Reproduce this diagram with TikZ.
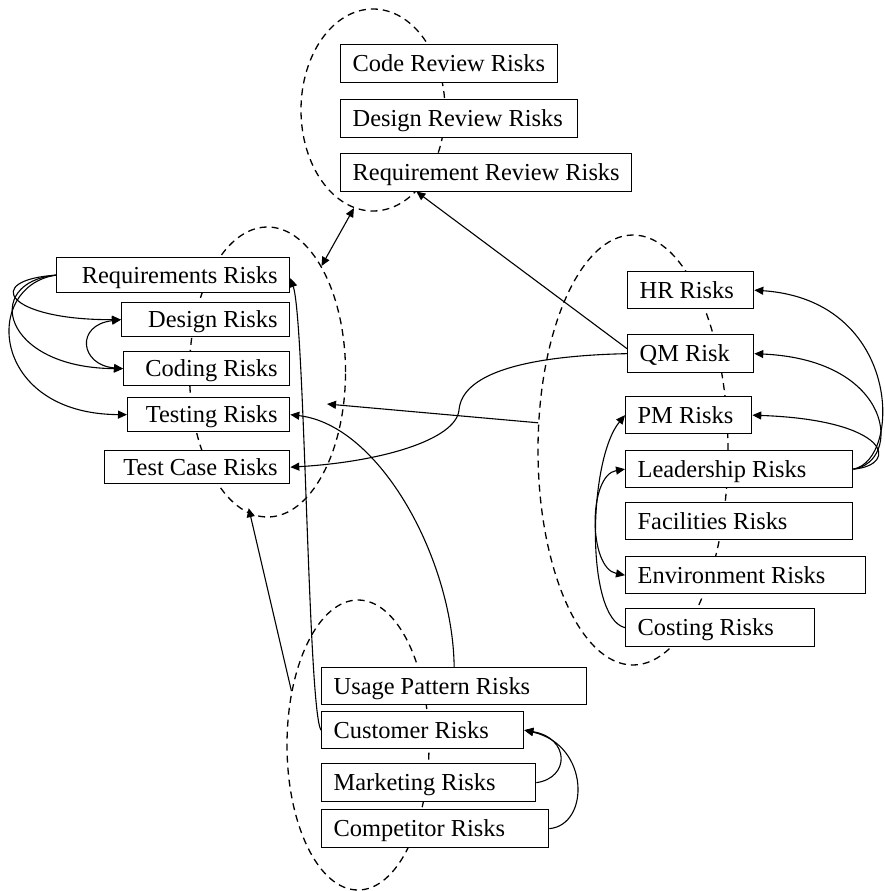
\documentclass[tikz,border=0pt]{standalone}
\usepackage{fontspec}
\setmainfont{Liberation Serif}
\usetikzlibrary{shapes.geometric,arrows.meta}

% fixed-width label boxes that never wrap
\newcommand{\leftin}[2]{\makebox[#1][l]{#2}}
\newcommand{\rightin}[2]{\makebox[#1][r]{#2}}

\begin{document}
\begin{tikzpicture}[x=1pt,y=-1pt,
  zone/.style={draw, ellipse, inner sep=0pt, line width=1.3pt, dash pattern=on 7pt off 5pt},
  riskbox/.style={draw, fill=white, line width=1.3pt, anchor=north west,
    inner xsep=12pt, inner ysep=0pt, text height=22pt, text depth=6pt,
    font=\fontsize{24.4}{29}\selectfont},
  tip/.tip={Triangle[length=9pt,width=8pt]},
  link/.style={line width=1.1pt, -tip},
  both/.style={line width=1.1pt, tip-tip}]
\useasboundingbox (0,0) rectangle (884,891);

% dashed groupings
\node[zone, minimum width=144pt, minimum height=202pt] (rev)  at (373,110)   {};
\node[zone, minimum width=156pt, minimum height=290pt] (dev)  at (267.5,372) {};
\node[zone, minimum width=190pt, minimum height=430pt] (mgmt) at (633,450)   {};
\node[zone, minimum width=142pt, minimum height=290pt] (mkt)  at (358,745)   {};

% review risks
\node[riskbox, minimum height=38pt] (cr) at (340,44)  {\leftin{193pt}{Code Review Risks}};
\node[riskbox, minimum height=38pt] (dr) at (340,99)  {\leftin{213pt}{Design Review Risks}};
\node[riskbox, minimum height=38pt] (rr) at (340,153) {\leftin{267pt}{Requirement Review Risks}};

% development risks
\node[riskbox, minimum height=35pt] (req) at (56,257)  {\rightin{209pt}{Requirements Risks}};
\node[riskbox, minimum height=34pt] (des) at (121,302) {\rightin{144pt}{Design Risks}};
\node[riskbox, minimum height=34pt] (cod) at (123,351) {\rightin{142pt}{Coding Risks}};
\node[riskbox, minimum height=34pt] (tst) at (127,397) {\rightin{138pt}{Testing Risks}};
\node[riskbox, minimum height=33pt] (tc)  at (104,450) {\rightin{161pt}{Test Case Risks}};

% management risks
\node[riskbox, minimum height=37pt] (hr)   at (627,271) {\leftin{102pt}{HR Risks}};
\node[riskbox, minimum height=38pt] (qm)   at (627,334) {\leftin{102pt}{QM Risk}};
\node[riskbox, minimum height=37pt] (pm)   at (625,396) {\leftin{102pt}{PM Risks}};
\node[riskbox, minimum height=37pt] (lead) at (625,450) {\leftin{203pt}{Leadership Risks}};
\node[riskbox, minimum height=37pt] (fac)  at (625,502) {\leftin{203pt}{Facilities Risks}};
\node[riskbox, minimum height=37pt] (env)  at (625,556) {\leftin{216pt}{Environment Risks}};
\node[riskbox, minimum height=38pt] (cost) at (625,608) {\leftin{165pt}{Costing Risks}};

% market risks
\node[riskbox, minimum height=37pt] (use)  at (321,667) {\leftin{241pt}{Usage Pattern Risks}};
\node[riskbox, minimum height=37pt] (cust) at (321,711) {\leftin{178pt}{Customer Risks}};
\node[riskbox, minimum height=38pt] (mark) at (321,763) {\leftin{190pt}{Marketing Risks}};
\node[riskbox, minimum height=38pt] (comp) at (321,809) {\leftin{203pt}{Competitor Risks}};

% links between groups
\draw[both] (rev.259) -- (dev.63);
\draw[link] ([yshift=5pt]qm.west) -- (rev.-62);
\coordinate (devIn) at (327,404);
\draw[link] (mgmt.164) -- (devIn);
\draw[link, shorten >=-6pt] (mkt.141) -- (dev.263);
\draw[link] (qm.west) .. controls (520,356) and (462,375) .. (459,410)
  .. controls (456,440) and (380,462) .. (tc.east);
\draw[link] (use.north) .. controls (453,560) and (380,425) .. (tst.east);
\draw[link] (cust.west) .. controls (308,710) and (305,320) .. ([yshift=-3pt]req.east);

% development links
\draw[link] (req.west) .. controls (-18,280) and (6,320) .. (des.west);
\draw[link] (req.west) .. controls (-18,282) and (2,368) .. (cod.west);
\draw[link] (req.west) .. controls (-18,286) and (-10,414) .. (tst.west);
\draw[both] (des.west) .. controls (75,325) and (80,365) .. (cod.west);

% management links
\draw[link] (lead.east) .. controls (902,460) and (902,300) .. (hr.east);
\draw[link] (lead.east) .. controls (902,462) and (895,360) .. (qm.east);
\draw[link] (lead.east) .. controls (900,465) and (890,420) .. (pm.east);
\draw[both] (lead.west) .. controls (588,475) and (588,568) .. (env.west);
\draw[link] (cost.west) .. controls (585,618) and (588,460) .. (pm.west);

% market links
\draw[link] (mark.east) .. controls (570,778) and (570,738) .. (cust.east);
\draw[link] (comp.east) .. controls (590,825) and (590,745) .. (cust.east);
\end{tikzpicture}
\end{document}
